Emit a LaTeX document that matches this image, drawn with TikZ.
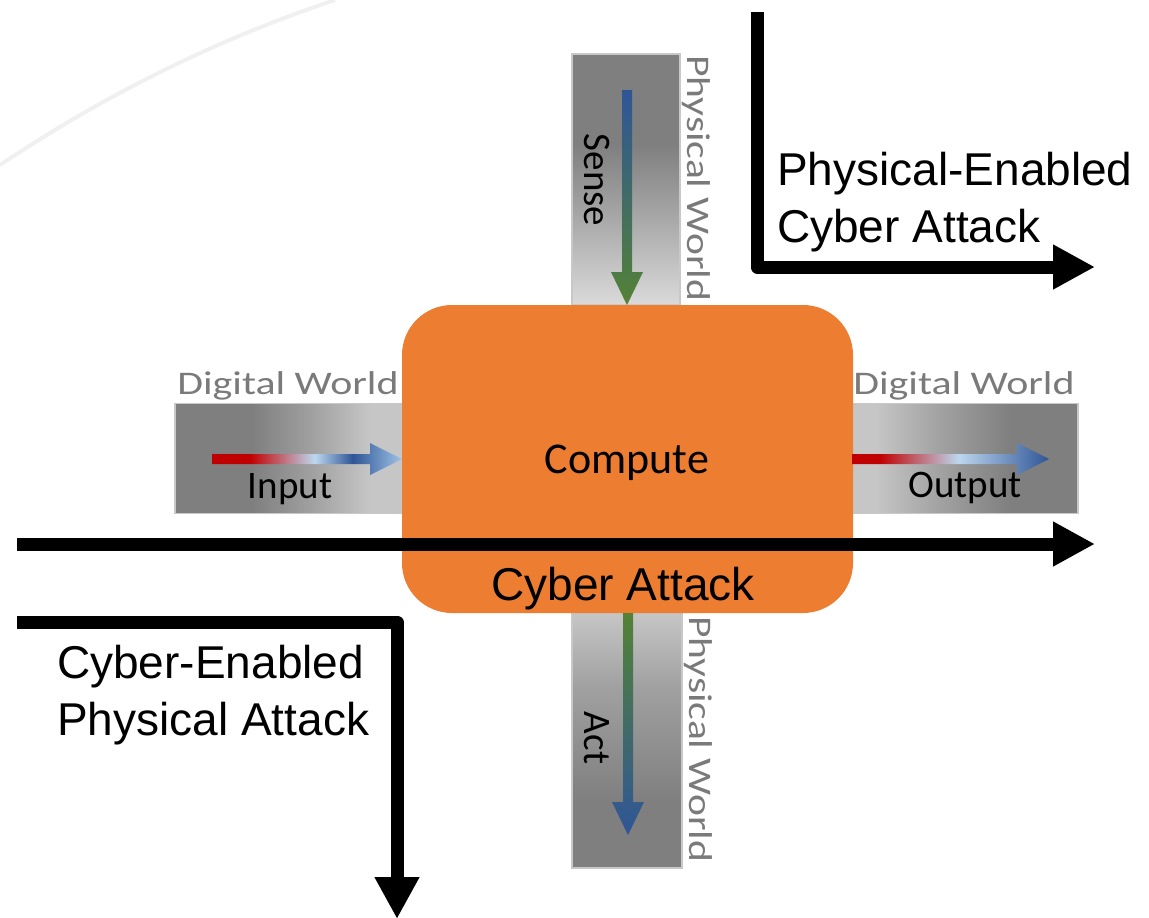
\documentclass[tikz,border=0pt]{standalone}
\usepackage{fontspec}
\setmainfont{Carlito}
\newfontfamily\arialf{Liberation Sans}
\usetikzlibrary{arrows.meta}
\definecolor{orng}{HTML}{ED7D31}
\definecolor{cred}{HTML}{C00000}
\definecolor{clb}{HTML}{BDD7EE}
\definecolor{cdb}{HTML}{2F5597}
\definecolor{clb2}{HTML}{9DC3E6}
\definecolor{cgreen}{HTML}{548235}
\definecolor{gdark}{HTML}{7F7F7F}
\definecolor{gmid}{HTML}{A0A0A0}
\definecolor{glight}{HTML}{C6C6C6}
\definecolor{glight2}{HTML}{DADADA}
\definecolor{barline}{HTML}{C8C8C8}
\definecolor{worldgray}{HTML}{7A7A7A}
\definecolor{arcgray}{HTML}{F0F0F0}
\pgfdeclarehorizontalshading{ingrad}{100bp}{color(0bp)=(cred); color(25bp)=(cred); color(35bp)=(cred); color(52bp)=(clb); color(62bp)=(cdb); color(75bp)=(clb2); color(100bp)=(clb2)}
\pgfdeclarehorizontalshading{outgrad}{100bp}{color(0bp)=(cred); color(25bp)=(cred); color(32bp)=(cred); color(52bp)=(clb); color(75bp)=(cdb); color(100bp)=(cdb)}
\pgfdeclarehorizontalshading{barlr}{100bp}{color(0bp)=(gdark); color(25bp)=(gdark); color(42bp)=(gdark); color(55bp)=(gmid); color(68bp)=(glight); color(100bp)=(glight)}
\pgfdeclarehorizontalshading{barrl}{100bp}{color(0bp)=(glight); color(30bp)=(glight); color(45bp)=(gmid); color(60bp)=(gdark); color(100bp)=(gdark)}
\pgfdeclareverticalshading{barsense}{100bp}{color(0bp)=(glight2); color(25bp)=(glight2); color(45bp)=(gmid); color(57bp)=(gdark); color(100bp)=(gdark)}
\pgfdeclareverticalshading{baract}{100bp}{color(0bp)=(gdark); color(38bp)=(gdark); color(60bp)=(gmid); color(75bp)=(glight); color(100bp)=(glight)}
\tikzset{
  blk/.style={line width=13pt, -{Triangle[length=42pt,width=42pt]}, line join=round},
  arialtxt/.style={font=\arialf\fontsize{46}{55}\selectfont, inner sep=0pt, text=black},
  lbl/.style={font=\fontsize{39}{47}\selectfont, inner sep=0pt, text=black},
  worldlbl/.style={font=\fontsize{33}{40}\selectfont, inner sep=0pt, text=worldgray},
  barbox/.style={draw=barline, line width=1.5pt, inner sep=0pt},
}
\begin{document}
\begin{tikzpicture}[x=1pt,y=-1pt]
\useasboundingbox (0,0) rectangle (1149,918);
% faint arc
\draw[arcgray, line width=4pt] (0,165) .. controls (90,105) and (200,45) .. (335,0);
% bars
\node (inbar) [barbox, shading=barlr, minimum width=227pt, minimum height=110pt] at (288.5,458.5) {};
\node (outbar) [barbox, shading=barrl, minimum width=225pt, minimum height=110pt] at (965.5,458.5) {};
\node (sensebar) [barbox, shading=barsense, minimum width=108pt, minimum height=251pt] at (626,179.5) {};
\node (actbar) [barbox, shading=baract, minimum width=110pt, minimum height=256pt] at (627,740) {};
% compute box
\node (cpu) [fill=orng, rounded corners=50pt, minimum width=451pt, minimum height=308pt, inner sep=0pt] at (627.5,459) {};
% gradient arrows
\shade[shading=ingrad] (212,454) -- (370,454) -- (370,443) -- (402,459) -- (370,475) -- (370,464) -- (212,464) -- cycle;
\shade[shading=outgrad] (852,454) -- (1017,454) -- (1017,443) -- (1049,459) -- (1017,475) -- (1017,464) -- (852,464) -- cycle;
\shade[top color=cdb, bottom color=cgreen] (622,90) -- (622,272) -- (611,272) -- (627,305) -- (643,272) -- (632,272) -- (632,90) -- cycle;
\shade[top color=cgreen, bottom color=cdb] (623,613) -- (623,802) -- (612,802) -- (628,835) -- (644,802) -- (633,802) -- (633,613) -- cycle;
% labels in bars
\node (senselbl) [lbl, rotate=-90] at (597,180) {Sense};
\node (actlbl) [lbl, rotate=-90] at (597,738) {Act};
\node (inlbl) [lbl, anchor=base] at (290,498) {Input};
\node (outlbl) [lbl, anchor=base] at (965,497) {Output};
\node (cpulbl) [font=\fontsize{44}{52}\selectfont, inner sep=0pt, anchor=base] at (627,473) {Compute};
% world labels
\node (dwl) [worldlbl, anchor=base] at (288,394) {\scalebox{1.27}[1]{Digital World}};
\node (dwr) [worldlbl, anchor=base] at (964,394) {\scalebox{1.27}[1]{Digital World}};
\node (pwt) [worldlbl, rotate=-90] at (696,178) {\scalebox{1.26}[1]{Physical World}};
\node (pwb) [worldlbl, rotate=-90] at (698,739) {\scalebox{1.26}[1]{Physical World}};
% attack texts
\node (ca) [arialtxt, anchor=base] at (623,600) {Cyber Attack};
\node (pec1) [arialtxt, anchor=base west] at (777,185) {Physical-Enabled};
\node (pec2) [arialtxt, anchor=base west] at (777,242) {Cyber Attack};
\node (cep1) [arialtxt, anchor=base west] at (57,678) {Cyber-Enabled};
\node (cep2) [arialtxt, anchor=base west] at (57,735) {Physical Attack};
% attack paths
\coordinate (a1s) at (17,544);
\coordinate (a1e) at (1095,544);
\coordinate (a2s) at (757,12);
\coordinate (a2c) at (757,267);
\coordinate (a2e) at (1095,267);
\coordinate (a3s) at (17,622);
\coordinate (a3c) at (397,622);
\coordinate (a3e) at (397,919);
\draw[blk] (a1s) -- (a1e);
\draw[blk] (a2s) -- (a2c) -- (a2e);
\draw[blk] (a3s) -- (a3c) -- (a3e);
\end{tikzpicture}
\end{document}
